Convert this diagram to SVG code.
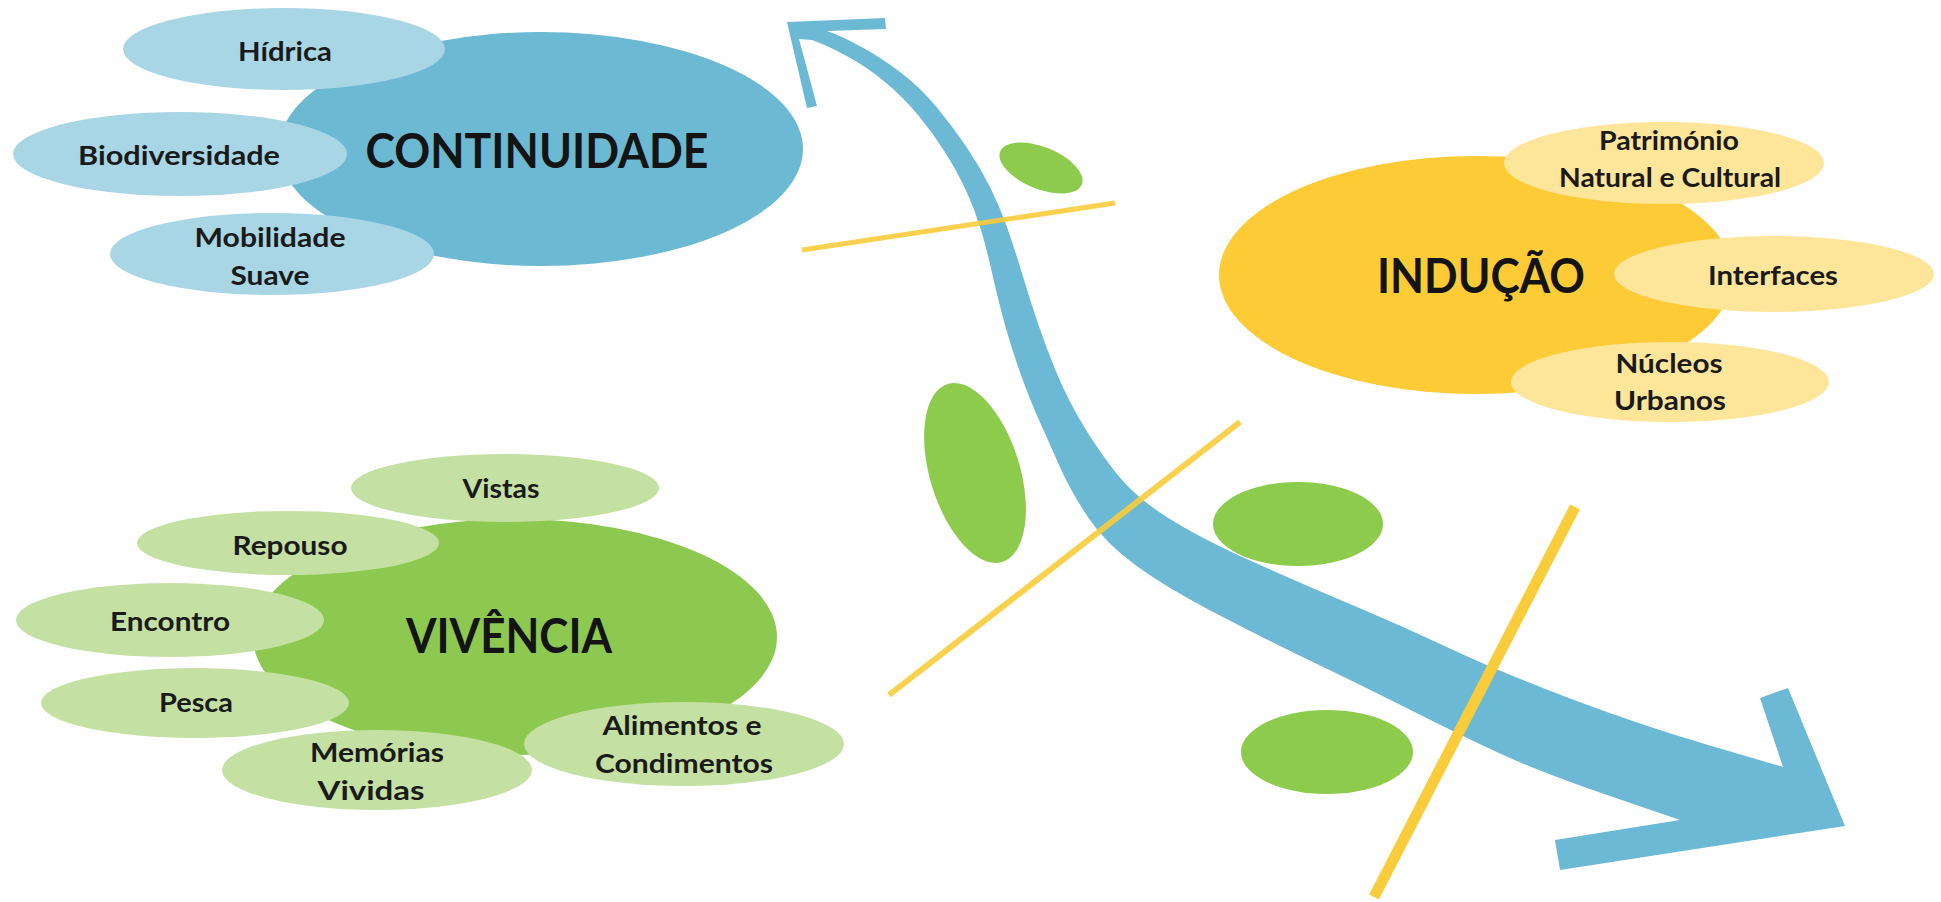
<svg xmlns="http://www.w3.org/2000/svg" width="1941" height="902" viewBox="0 0 1941 902">
<style>
.lbl{font-family:Lato,"Open Sans","Liberation Sans",sans-serif;font-weight:700;font-size:27px;fill:#1a1a1a;text-anchor:middle}
.big{font-family:Lato,"Open Sans","Liberation Sans",sans-serif;font-weight:700;font-size:47px;fill:#141414;text-anchor:middle}
.bB{fill:#6CB9D3}.bL{fill:#A8D6E5}
.yB{fill:#FDCB36}.yL{fill:#FDE59A}
.gB{fill:#8DC950}.gL{fill:#C5E0A3}
.spot{fill:#8CCB4B}
.road{stroke:#F9CC3C;stroke-linecap:butt;fill:none}
</style>
<rect width="1941" height="902" fill="#ffffff"/>

<g id="connectors">
  <path id="river-arrow" fill="#6BB9D4" d="M 787,22 L 885,18 L 886,29 L 827,31 L 835,34 Q 845,38 862.5,47.5 Q 880,57 900,72 Q 920,87 936.5,107 Q 953,127 966.5,147 Q 980,167 990,187 Q 1000,207 1007.5,228.5 Q 1015,250 1022.5,275 Q 1030,300 1038.5,325 Q 1047,350 1057.5,375 Q 1068,400 1083,425 Q 1098,450 1116.5,473.5 Q 1135,497 1167.5,517.5 Q 1200,538 1250,560.5 Q 1300,583 1350,604 Q 1400,625 1450,648.5 Q 1500,672 1570,698.5 Q 1640,725 1711.5,746 L 1783,767 L 1760,698 L 1788,688 L 1845,826 L 1560,870 L 1555,840 L 1680,820 L 1610,796 Q 1540,772 1500,753.5 Q 1460,735 1413.5,711.5 Q 1367,688 1317,664 Q 1267,640 1217,614 Q 1167,588 1136,565.5 Q 1105,543 1087.5,516.5 Q 1070,490 1059,465 Q 1048,440 1039,420 Q 1030,400 1021,375 Q 1012,350 1005,325 Q 998,300 992.5,275 Q 987,250 981,230 Q 975,210 966.5,191.5 Q 958,173 945.5,153 Q 933,133 918,115 Q 903,97 885,82 Q 867,67 848.5,57 Q 830,47 821,43.5 L 812,40 L 799,39 L 817,106 L 807,108 Z"/>
  <ellipse class="spot" cx="1041" cy="168" rx="44" ry="21" transform="rotate(22 1041 168)"/>
  <ellipse class="spot" cx="975" cy="473" rx="45" ry="93" transform="rotate(-17 975 473)"/>
  <ellipse class="spot" cx="1298" cy="524" rx="85" ry="42"/>
  <ellipse class="spot" cx="1327" cy="752" rx="86" ry="42"/>
  <line class="road" x1="802" y1="250" x2="1115" y2="203" stroke-width="5" opacity="0.9"/>
  <line class="road" x1="889" y1="695" x2="1240" y2="422" stroke-width="6" opacity="0.9"/>
  <line class="road" x1="1575" y1="507" x2="1374" y2="897" stroke-width="11"/>
</g>

<g id="continuidade">
  <ellipse class="bB" cx="541" cy="149" rx="262" ry="117"/>
  <text class="big" x="537" y="168" textLength="343" lengthAdjust="spacingAndGlyphs">CONTINUIDADE</text>
</g>
<g id="hidrica">
  <ellipse class="bL" cx="284" cy="49" rx="161" ry="41"/>
  <text class="lbl" x="285" y="61" textLength="94" lengthAdjust="spacingAndGlyphs">Hídrica</text>
</g>
<g id="biodiversidade">
  <ellipse class="bL" cx="180" cy="154" rx="167" ry="42"/>
  <text class="lbl" x="179" y="165" textLength="202" lengthAdjust="spacingAndGlyphs">Biodiversidade</text>
</g>
<g id="mobilidade">
  <ellipse class="bL" cx="272" cy="254" rx="162" ry="41"/>
  <text class="lbl" x="270" y="247" textLength="151" lengthAdjust="spacingAndGlyphs">Mobilidade</text>
  <text class="lbl" x="270" y="285" textLength="79" lengthAdjust="spacingAndGlyphs">Suave</text>
</g>

<g id="inducao">
  <ellipse class="yB" cx="1476" cy="275" rx="257" ry="119"/>
  <text class="big" x="1481" y="293" textLength="208" lengthAdjust="spacingAndGlyphs">INDUÇÃO</text>
</g>
<g id="patrimonio">
  <ellipse class="yL" cx="1664" cy="163" rx="160" ry="41"/>
  <text class="lbl" x="1669" y="150" textLength="140" lengthAdjust="spacingAndGlyphs">Património</text>
  <text class="lbl" x="1670" y="187" textLength="222" lengthAdjust="spacingAndGlyphs">Natural e Cultural</text>
</g>
<g id="interfaces">
  <ellipse class="yL" cx="1774" cy="274" rx="160" ry="38"/>
  <text class="lbl" x="1773" y="285" textLength="130" lengthAdjust="spacingAndGlyphs">Interfaces</text>
</g>
<g id="nucleos">
  <ellipse class="yL" cx="1670" cy="382" rx="159" ry="40"/>
  <text class="lbl" x="1669" y="373" textLength="107" lengthAdjust="spacingAndGlyphs">Núcleos</text>
  <text class="lbl" x="1670" y="410" textLength="112" lengthAdjust="spacingAndGlyphs">Urbanos</text>
</g>

<g id="vivencia">
  <ellipse class="gB" cx="515" cy="637" rx="262" ry="118"/>
  <text class="big" x="509" y="653" textLength="206" lengthAdjust="spacingAndGlyphs">VIVÊNCIA</text>
</g>
<g id="vistas">
  <ellipse class="gL" cx="505" cy="488" rx="154" ry="34"/>
  <text class="lbl" x="501" y="498" textLength="77" lengthAdjust="spacingAndGlyphs">Vistas</text>
</g>
<g id="repouso">
  <ellipse class="gL" cx="288" cy="543" rx="151" ry="32"/>
  <text class="lbl" x="290" y="555" textLength="115" lengthAdjust="spacingAndGlyphs">Repouso</text>
</g>
<g id="encontro">
  <ellipse class="gL" cx="170" cy="620" rx="154" ry="37"/>
  <text class="lbl" x="170" y="631" textLength="120" lengthAdjust="spacingAndGlyphs">Encontro</text>
</g>
<g id="pesca">
  <ellipse class="gL" cx="195" cy="703" rx="154" ry="35"/>
  <text class="lbl" x="196" y="712" textLength="74" lengthAdjust="spacingAndGlyphs">Pesca</text>
</g>
<g id="memorias">
  <ellipse class="gL" cx="377" cy="770" rx="155" ry="40"/>
  <text class="lbl" x="377" y="762" textLength="134" lengthAdjust="spacingAndGlyphs">Memórias</text>
  <text class="lbl" x="371" y="800" textLength="107" lengthAdjust="spacingAndGlyphs">Vividas</text>
</g>
<g id="alimentos">
  <ellipse class="gL" cx="684" cy="744" rx="160" ry="42"/>
  <text class="lbl" x="682" y="735" textLength="159" lengthAdjust="spacingAndGlyphs">Alimentos e</text>
  <text class="lbl" x="684" y="773" textLength="178" lengthAdjust="spacingAndGlyphs">Condimentos</text>
</g>
</svg>
